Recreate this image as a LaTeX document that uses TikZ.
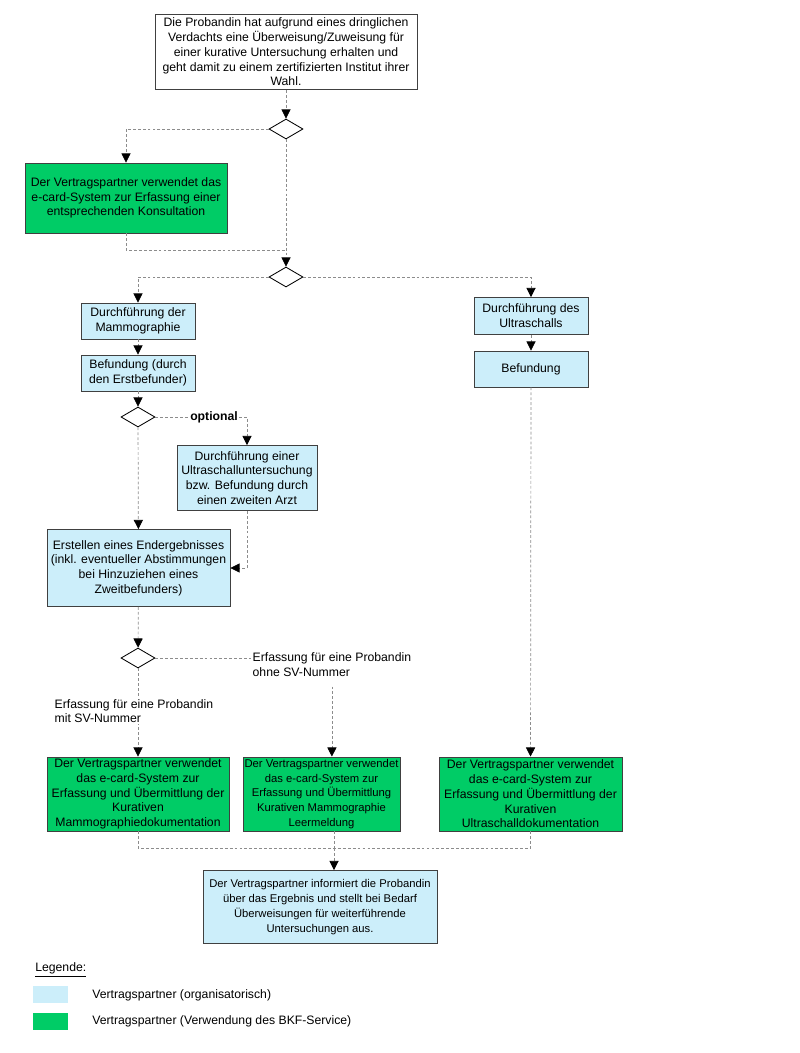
\documentclass[tikz,border=0pt]{standalone}
\usepackage{fontspec}
\setmainfont{Liberation Sans}
\usetikzlibrary{arrows.meta, shapes.geometric}

\definecolor{orgblue}{RGB}{204,238,250}
\definecolor{bkfgreen}{RGB}{0,204,102}
\newcommand{\flowfont}{\fontsize{8.7}{10.5}\selectfont}
\newcommand{\tightfont}{\fontsize{8}{10.5}\selectfont}

\begin{document}
\begin{tikzpicture}[x=0.025cm, y=-0.025cm, font=\flowfont, box/.style={draw=black!75, line width=0.6pt, align=center, inner sep=0pt}, org/.style={box, fill=orgblue}, bkf/.style={box, fill=bkfgreen}, dec/.style={diamond, draw=black, line width=0.6pt, fill=white, minimum width=0.85cm, minimum height=0.5cm, inner sep=0pt}, flow/.style={draw=black!45, line width=0.5pt, dash pattern=on 2pt off 1.5pt}, arr/.style={flow, -{Triangle[length=6.5pt, width=6.5pt, color=black]}}, note/.style={align=left, inner sep=1pt}]

\useasboundingbox (0,0) rectangle (800,1053);

\node[box, fill=white, minimum width=6.55cm, minimum height=1.875cm] (start) at (286,52) {Die Probandin hat aufgrund eines dringlichen\\Verdachts eine Überweisung/Zuweisung für\\einer kurative Untersuchung erhalten und\\geht damit zu einem zertifizierten Institut ihrer\\Wahl.};
\node[dec] (d1) at (286,129) {};
\node[bkf, minimum width=5.05cm, minimum height=1.75cm] (kons) at (126,198) {Der Vertragspartner verwendet das\\e-card-System zur Erfassung einer\\entsprechenden Konsultation};
\coordinate (j1) at (286,250); \node[dec] (d2) at (286,277) {};

\node[org, minimum width=2.85cm, minimum height=0.9cm] (mammo) at (138,321) {Durchführung der\\Mammographie};
\node[org, minimum width=2.85cm, minimum height=0.9cm] (befm) at (138,373) {Befundung (durch\\den Erstbefunder)};
\node[org, minimum width=2.85cm, minimum height=0.925cm] (us) at (531,316) {Durchführung des\\Ultraschalls};
\node[org, minimum width=2.85cm, minimum height=0.9cm] (befus) at (531,369) {Befundung};
\node[dec] (d3) at (138,417) {};
\node[org, minimum width=3.5cm, minimum height=1.625cm] (zweit) at (247,478) {Durchführung einer\\Ultraschalluntersuchung\\bzw. Befundung durch\\einen zweiten Arzt};
\node[org, minimum width=4.575cm, minimum height=1.925cm] (endg) at (138.5,568) {Erstellen eines Endergebnisses\\(inkl. eventueller Abstimmungen\\bei Hinzuziehen eines\\Zweitbefunders)};
\node[dec] (d4) at (138,658) {};
\node[note, anchor=west] (ohne) at (251,665) {Erfassung für eine Probandin\\ohne SV-Nummer};

\node[bkf, minimum width=4.55cm, minimum height=1.85cm] (docm) at (138,794) {Der Vertragspartner verwendet\\das e-card-System zur\\Erfassung und Übermittlung der\\Kurativen\\Mammographiedokumentation};
\node[bkf, font=\tightfont, minimum width=3.925cm, minimum height=1.85cm] (leer) at (321.5,794) {Der Vertragspartner verwendet\\das e-card-System zur\\Erfassung und Übermittlung\\Kurativen Mammographie\\Leermeldung};
\node[bkf, minimum width=4.575cm, minimum height=1.85cm] (docus) at (530.5,794) {Der Vertragspartner verwendet\\das e-card-System zur\\Erfassung und Übermittlung der\\Kurativen\\Ultraschalldokumentation};
\coordinate (j2) at (334,848);
\node[org, font=\tightfont, minimum width=5.85cm, minimum height=1.825cm] (info) at (320,907) {Der Vertragspartner informiert die Probandin\\über das Ergebnis und stellt bei Bedarf\\Überweisungen für weiterführende\\Untersuchungen aus.};

\draw[arr] (start) -- (d1); \draw[arr] (d1.west) -| (kons.north); \draw[arr] (d1) -- (d2); \draw[flow] (kons.south) |- (j1);
\draw[arr] (d2.west) -| (mammo.north); \draw[arr] (d2.east) -| (us.north);
\draw[arr] (mammo) -- (befm); \draw[arr] (us) -- (befus); \draw[arr] (befm) -- (d3);
\draw[arr] (d3.east) -| node[pos=0.32, fill=white, inner sep=1pt, font=\flowfont\bfseries] (opt) {optional} (zweit.north);
\draw[arr] (d3) -- (endg); \draw[arr] (zweit.south) |- (endg.east); \draw[arr] (endg) -- (d4);
\draw[flow] (d4.east) -- (d4.east -| ohne.west); \draw[arr] (ohne.south) ++(0,8) -- (ohne.south |- leer.north);
\draw[arr] (d4) -- (docm); \node[note, fill=white, anchor=west] (mit) at (53,711) {Erfassung für eine Probandin\\mit SV-Nummer};
\draw[arr] (befus) -- (docus);
\draw[flow] (docm.south) |- (j2) -| (docus.south); \draw[flow] (leer.south -| j2) -- (j2); \draw[arr] (j2) -- (info.north -| j2);

\node[anchor=west, inner sep=0pt] (leg) at (35,970) {\underline{Legende:}};
\node[fill=orgblue, minimum width=0.875cm, minimum height=0.425cm, inner sep=0pt] (sworg) at (50.5,994.5) {};
\node[fill=bkfgreen, minimum width=0.875cm, minimum height=0.425cm, inner sep=0pt] (swbkf) at (50.5,1021.5) {};
\node[anchor=west, inner sep=0pt] (legorg) at (92,995) {Vertragspartner (organisatorisch)};
\node[anchor=west, inner sep=0pt] (legbkf) at (92,1021) {Vertragspartner (Verwendung des BKF-Service)};
\end{tikzpicture}
\end{document}
